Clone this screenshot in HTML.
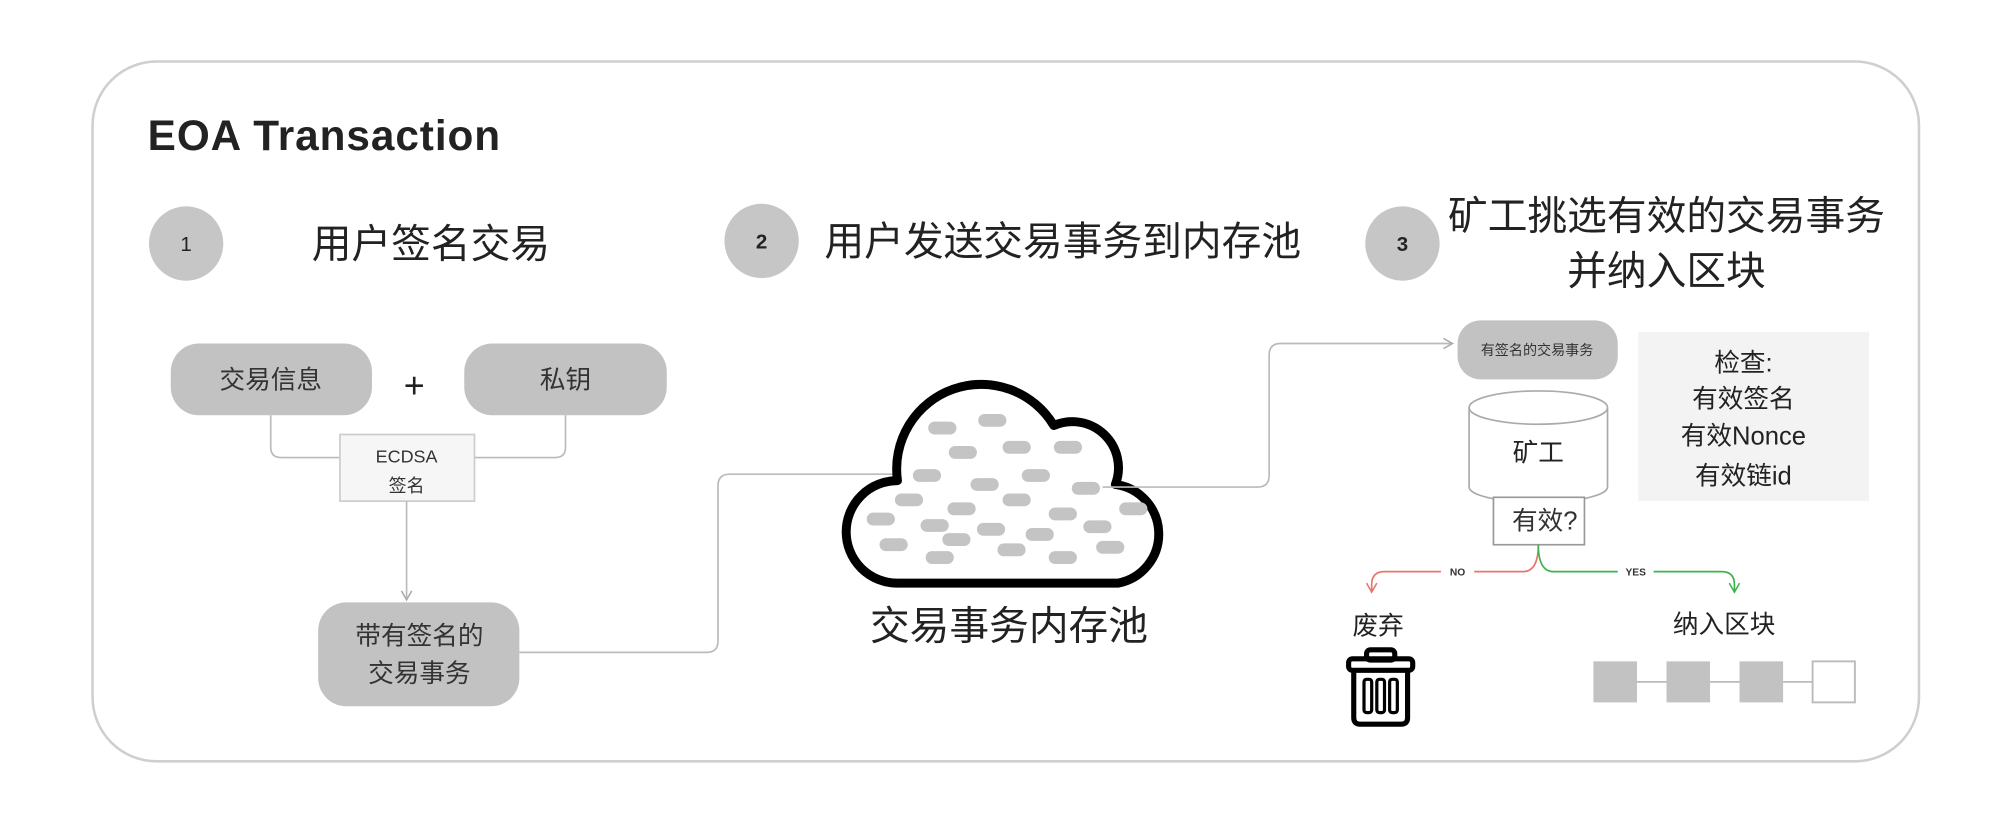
<!DOCTYPE html>
<html><head><meta charset="utf-8"><style>
html,body{margin:0;padding:0;background:#fff;}
svg{display:block;}
text{font-family:"Liberation Sans","Noto Sans CJK SC",sans-serif;}
</style></head><body>
<svg width="2000" height="819" viewBox="0 0 1560 639" xmlns="http://www.w3.org/2000/svg">
<defs>
<marker id="ag" markerWidth="10" markerHeight="10" refX="8" refY="5" orient="auto" markerUnits="userSpaceOnUse"><path d="M1,1 L8,5 L1,9" fill="none" stroke="#aaa" stroke-width="1.2"/></marker>
<marker id="ar" markerWidth="10" markerHeight="10" refX="8" refY="5" orient="auto" markerUnits="userSpaceOnUse"><path d="M1,1 L8,5 L1,9" fill="none" stroke="#e8766a" stroke-width="1.2"/></marker>
<marker id="agr" markerWidth="10" markerHeight="10" refX="8" refY="5" orient="auto" markerUnits="userSpaceOnUse"><path d="M1,1 L8,5 L1,9" fill="none" stroke="#3cb44b" stroke-width="1.2"/></marker>
</defs>
<rect x="72" y="48" width="1425" height="546" rx="50" fill="#fff" stroke="#cfcfcf" stroke-width="2"/>
<text x="115" y="117" font-size="33" font-weight="bold" fill="#222" textLength="275">EOA Transaction</text>

<circle cx="145" cy="190" r="29" fill="#c6c6c6"/><text x="145" y="196" font-size="16" text-anchor="middle" fill="#222">1</text>
<text x="243" y="201" font-size="31" fill="#222">用户签名交易</text>
<circle cx="594" cy="188" r="29" fill="#c6c6c6"/><text x="594" y="194" font-size="16" font-weight="bold" text-anchor="middle" fill="#222">2</text>
<text x="643" y="199" font-size="31" fill="#222">用户发送交易事务到内存池</text>
<circle cx="1094" cy="190" r="29" fill="#c6c6c6"/><text x="1094" y="196" font-size="16" font-weight="bold" text-anchor="middle" fill="#222">3</text>
<text x="1300" y="179" font-size="31" text-anchor="middle" fill="#222">矿工挑选有效的交易事务</text>
<text x="1300" y="222" font-size="31" text-anchor="middle" fill="#222">并纳入区块</text>

<!-- step1 -->
<path d="M211,324 V349 Q211,357 219,357 H265" fill="none" stroke="#bbb" stroke-width="1.3"/>
<path d="M441,324 V349 Q441,357 433,357 H370" fill="none" stroke="#bbb" stroke-width="1.3"/>
<rect x="133" y="268" width="157" height="56" rx="22" fill="#c2c2c2"/>
<text x="211" y="303" font-size="20" text-anchor="middle" fill="#333">交易信息</text>
<text x="323" y="310" font-size="28" text-anchor="middle" fill="#222">+</text>
<rect x="362" y="268" width="158" height="56" rx="22" fill="#c2c2c2"/>
<text x="441" y="303" font-size="20" text-anchor="middle" fill="#333">私钥</text>
<rect x="265" y="339" width="105" height="52" fill="#f6f6f6" stroke="#ccc" stroke-width="1.3"/>
<text x="317" y="361" font-size="14" text-anchor="middle" fill="#333">ECDSA</text>
<text x="317" y="384" font-size="14" text-anchor="middle" fill="#333">签名</text>
<line x1="317" y1="391" x2="317" y2="468" stroke="#bbb" stroke-width="1.3" marker-end="url(#ag)"/>
<rect x="248" y="470" width="157" height="81" rx="22" fill="#c2c2c2"/>
<text x="327" y="503" font-size="20" text-anchor="middle" fill="#333">带有签名的</text>
<text x="327" y="532" font-size="20" text-anchor="middle" fill="#333">交易事务</text>
<path d="M405,509 H551 Q560,509 560,500 V379 Q560,370 569,370 H716" fill="none" stroke="#bbb" stroke-width="1.3" marker-end="url(#ag)"/>

<!-- cloud -->
<path d="M700,455 A40,40 0 0 1 700,375 A66,66 0 0 1 822,332 A36,36 0 0 1 870,378 A39,39 0 0 1 872,455 Z" fill="#fff" stroke="#000" stroke-width="7" stroke-linejoin="round"/>
<g fill="#c4c4c4">
<rect x="724" y="329" width="22" height="10" rx="5"/><rect x="763" y="323" width="22" height="10" rx="5"/>
<rect x="740" y="348" width="22" height="10" rx="5"/><rect x="782" y="344" width="22" height="10" rx="5"/><rect x="822" y="344" width="22" height="10" rx="5"/>
<rect x="712" y="366" width="22" height="10" rx="5"/><rect x="757" y="373" width="22" height="10" rx="5"/><rect x="797" y="366" width="22" height="10" rx="5"/><rect x="836" y="376" width="22" height="10" rx="5"/>
<rect x="698" y="385" width="22" height="10" rx="5"/><rect x="739" y="392" width="22" height="10" rx="5"/><rect x="782" y="385" width="22" height="10" rx="5"/><rect x="818" y="396" width="22" height="10" rx="5"/><rect x="873" y="392" width="22" height="10" rx="5"/>
<rect x="676" y="400" width="22" height="10" rx="5"/><rect x="718" y="405" width="22" height="10" rx="5"/><rect x="762" y="408" width="22" height="10" rx="5"/><rect x="800" y="412" width="22" height="10" rx="5"/><rect x="845" y="406" width="22" height="10" rx="5"/>
<rect x="686" y="420" width="22" height="10" rx="5"/><rect x="735" y="416" width="22" height="10" rx="5"/><rect x="778" y="424" width="22" height="10" rx="5"/><rect x="855" y="422" width="22" height="10" rx="5"/>
<rect x="722" y="430" width="22" height="10" rx="5"/><rect x="818" y="430" width="22" height="10" rx="5"/>
</g>
<text x="787" y="499" font-size="31" text-anchor="middle" fill="#222">交易事务内存池</text>
<path d="M860,380 H981 Q990,380 990,371 V277 Q990,268 999,268 H1133" fill="none" stroke="#bbb" stroke-width="1.3" marker-end="url(#ag)"/>

<!-- step3 -->
<rect x="1137" y="250" width="125" height="46" rx="18" fill="#c2c2c2"/>
<text x="1199" y="277" font-size="11" text-anchor="middle" fill="#333">有签名的交易事务</text>
<rect x="1278" y="259" width="180" height="132" fill="#f3f3f3"/>
<g font-size="20" text-anchor="middle" fill="#222">
<text x="1360" y="290">检查:</text><text x="1360" y="318">有效签名</text><text x="1360" y="347">有效Nonce</text><text x="1360" y="378">有效链id</text>
</g>
<path d="M1146,318 V380 A54,12 0 0 0 1254,380 V318" fill="#fff" stroke="#aaa" stroke-width="1.3"/>
<ellipse cx="1200" cy="318" rx="54" ry="13" fill="#fff" stroke="#aaa" stroke-width="1.3"/>
<text x="1200" y="360" font-size="20" text-anchor="middle" fill="#222">矿工</text>
<rect x="1165" y="388" width="71" height="37" fill="#fff" stroke="#999" stroke-width="1.3"/>
<text x="1205" y="413" font-size="20" text-anchor="middle" fill="#333">有效?</text>
<path d="M1200,425 Q1200,446 1188,446 H1080 Q1070,446 1070,456 V462" fill="none" stroke="#e8766a" stroke-width="1.3" marker-end="url(#ar)"/>
<path d="M1200,425 Q1200,446 1212,446 H1343 Q1353,446 1353,456 V462" fill="none" stroke="#3cb44b" stroke-width="1.3" marker-end="url(#agr)"/>
<rect x="1124" y="440" width="26" height="11" fill="#fff"/><text x="1137" y="449" font-size="8" font-weight="bold" text-anchor="middle" fill="#333">NO</text>
<rect x="1262" y="440" width="28" height="11" fill="#fff"/><text x="1276" y="449" font-size="8" font-weight="bold" text-anchor="middle" fill="#333">YES</text>
<text x="1075" y="495" font-size="20" text-anchor="middle" fill="#222">废弃</text>
<g fill="none" stroke="#000" stroke-width="4" stroke-linejoin="round">
<rect x="1066" y="507" width="22" height="8" rx="3"/>
<rect x="1052" y="514" width="50" height="9" rx="3"/>
<path d="M1056,523 V560 Q1056,565 1061,565 H1093 Q1098,565 1098,560 V523"/>
</g>
<g fill="none" stroke="#000" stroke-width="2.5"><rect x="1064" y="530" width="6" height="26" rx="2"/><rect x="1074" y="530" width="6" height="26" rx="2"/><rect x="1084" y="530" width="6" height="26" rx="2"/></g>
<text x="1345" y="494" font-size="20" text-anchor="middle" fill="#222">纳入区块</text>
<g stroke="#bbb" stroke-width="1.3"><line x1="1277" y1="532" x2="1300" y2="532"/><line x1="1334" y1="532" x2="1357" y2="532"/><line x1="1391" y1="532" x2="1414" y2="532"/></g>
<rect x="1243" y="516" width="34" height="32" fill="#c2c2c2"/>
<rect x="1300" y="516" width="34" height="32" fill="#c2c2c2"/>
<rect x="1357" y="516" width="34" height="32" fill="#c2c2c2"/>
<rect x="1414" y="516" width="33" height="32" fill="#fff" stroke="#bbb" stroke-width="1.5"/>
</svg>
</body></html>
